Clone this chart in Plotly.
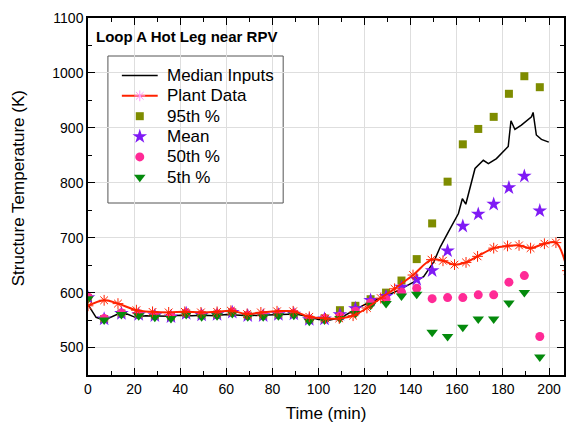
import plotly.graph_objects as go

# ---------------- data ----------------
median_t = [0, 3.5, 7, 12.5, 17, 20.5, 25, 30, 35, 40, 45, 50, 55, 60, 65, 70, 75, 80, 85, 90,
            95, 100, 105, 110, 115, 120, 125, 130, 135, 140.5, 145.6, 150, 152.8, 156.4, 160.7,
            162.4, 163.9, 167.9, 171.5, 173.7, 177.2, 182.3, 183.5, 185.2, 188, 192.4, 193.1,
            194.5, 196.7, 199.9]
median_T = [578, 555, 550, 560, 561, 555, 558, 558, 557, 559, 558, 559, 558, 560, 559, 558, 559,
            560, 560, 561, 557, 551, 550, 555, 567, 578, 587, 595, 605, 617, 629, 656, 683, 711,
            744, 771, 761, 826, 841, 835, 844, 866, 913, 897, 905, 920, 928, 887, 879, 874]

plant_t = [0, 7, 13, 21, 28, 35, 42, 49, 56, 62, 69, 75, 82, 89, 96, 103, 109, 115, 121, 127,
           133, 141, 149, 154, 159, 164, 169, 176, 182, 187, 192, 198, 203, 208]
plant_T = [576, 586, 580, 568, 565, 564, 565, 564, 565, 567, 561, 564, 566, 566, 556, 553, 553,
           558, 572, 590, 607, 632, 660, 658, 651, 655, 666, 681, 685, 686, 681, 689, 691, 640]

pct_t = [0, 7, 14.5, 22, 29, 36, 42.6, 49.3, 56, 62.6, 69.3, 76, 82.6, 89.3, 96, 102.6, 109.3,
         116, 122.6, 129.3, 136, 142.6, 149.3, 156, 162.6, 169.3, 176, 182.6, 189.3, 196]
p95 = [590, 552, 562, 560, 558, 556, 562, 559, 560, 564, 558, 558, 560, 561, 551, 553, 568, 576,
       588, 600, 622, 661, 726, 802, 870, 898, 920, 962, 994, 974]
mean = [591, 552, 562, 560, 558, 556, 562, 559, 560, 564, 558, 558, 560, 561, 551, 552, 560, 571,
        586, 593, 610, 624, 640, 676, 721, 743, 761, 791, 812, 749]
p50 = [592, 553, 563, 561, 559, 557, 563, 560, 561, 565, 559, 559, 561, 562, 552, 553, 557, 566,
       581, 588, 601, 608, 589, 591, 591, 596, 596, 619, 631, 520]
p5 = [589, 550, 560, 558, 555, 553, 560, 556, 558, 562, 556, 556, 558, 559, 548, 550, 553, 562,
      577, 580, 594, 597, 528, 520, 537, 552, 552, 581, 600, 483]

series_names = ["Median Inputs", "Plant Data", "95th %", "Mean", "50th %", "5th %"]

FONT = "Liberation Sans, Arial, sans-serif"

# ---------------- styles ----------------
W, H = 566, 425
ML, MR, MT, MB = 88, 0, 18, 50
PW, PH = W - ML - MR, H - MT - MB

median_line = dict(color="black", width=1.5)
plant_line = dict(color="#FF2200", width=2, shape="spline")
plant_marker = dict(symbol="asterisk-open", size=9, line=dict(color="#FF6A55", width=1))
m95 = dict(symbol="square", size=8, color="#7E8C00")
mmean = dict(symbol="star", size=11, color="#7F1AF5")
m50 = dict(symbol="circle", size=9, color="#FF2A96")
m5 = dict(symbol="triangle-down", size=10, color="#048A0C")

fig = go.Figure()
fig.add_trace(go.Scatter(x=median_t, y=median_T, mode="lines", name=series_names[0],
                         line=median_line))
fig.add_trace(go.Scatter(x=pct_t, y=p95, mode="markers", name=series_names[2], marker=m95))
fig.add_trace(go.Scatter(x=pct_t, y=mean, mode="markers", name=series_names[3], marker=mmean))
fig.add_trace(go.Scatter(x=pct_t, y=p50, mode="markers", name=series_names[4], marker=m50))
fig.add_trace(go.Scatter(x=pct_t, y=p5, mode="markers", name=series_names[5], marker=m5))
fig.add_trace(go.Scatter(x=plant_t, y=plant_T, mode="lines+markers", name=series_names[1],
                         line=plant_line, marker=plant_marker))

# ---------------- legend (boxed panel, pixel layout) ----------------
def px_x(px):
    return (px - ML) / PW


def px_y(py):
    return (H - MB - py) / PH


LEG_BOX = (108, 56, 284, 203)
SYM_X0, SYM_X1, TEXT_X = 122, 158, 165
ROW0, ROW_STEP = 75.5, 20.35

fig.add_shape(type="rect", xref="paper", yref="paper", layer="between",
              x0=px_x(LEG_BOX[0]), x1=px_x(LEG_BOX[2]), y0=px_y(LEG_BOX[3]), y1=px_y(LEG_BOX[1]),
              line=dict(color="#555555", width=1), fillcolor="white")

leg_styles = [("line", median_line, None),
              ("line", dict(color="#FF2200", width=2),
               dict(symbol="asterisk-open", size=9, line=dict(color="#FF3A20", width=1))),
              ("marker", None, m95), ("marker", None, mmean), ("marker", None, m50),
              ("marker", None, m5)]
xm = px_x((SYM_X0 + SYM_X1) / 2)
for i, (name, (kind, ln, mk)) in enumerate(zip(series_names, leg_styles)):
    yy = px_y(ROW0 + i * ROW_STEP)
    if kind == "line":
        fig.add_trace(go.Scatter(x=[px_x(SYM_X0), px_x(SYM_X1)], y=[yy, yy], mode="lines",
                                 line=ln, xaxis="x2", yaxis="y2", showlegend=False,
                                 hoverinfo="skip"))
    if mk is not None:
        fig.add_trace(go.Scatter(x=[xm], y=[yy], mode="markers", marker=mk, xaxis="x2",
                                 yaxis="y2", showlegend=False, hoverinfo="skip"))
    fig.add_annotation(text=name, xref="paper", yref="paper", x=px_x(TEXT_X), y=yy,
                       xanchor="left", yanchor="middle", showarrow=False,
                       font=dict(family=FONT, size=17, color="black"))

# ---------------- axes ----------------
axis_common = dict(showline=True, linecolor="black", linewidth=1.5, mirror="ticks",
                   ticks="inside", ticklen=7, tickwidth=1, tickcolor="black",
                   showgrid=True, gridcolor="#DEDEDE", gridwidth=1, zeroline=False,
                   tickfont=dict(family=FONT, size=14, color="black"))

xaxis = dict(range=[0, 206.5], dtick=20, tick0=0,
             minor=dict(ticks="inside", ticklen=4, dtick=10, tickcolor="black", showgrid=False),
             title=dict(text="Time (min)", font=dict(family=FONT, size=17, color="black"),
                        standoff=12),
             **axis_common)
yaxis = dict(range=[450, 1100], dtick=100, tick0=0,
             minor=dict(ticks="inside", ticklen=4, dtick=50, tickcolor="black", showgrid=False),
             **axis_common)

fig.add_annotation(text="Structure Temperature (K)", xref="paper", yref="paper",
                   x=px_x(18), y=px_y(188), xanchor="center", yanchor="middle",
                   textangle=-90, showarrow=False,
                   font=dict(family=FONT, size=17, color="black"))

fig.add_annotation(text="<b>Loop A Hot Leg near RPV</b>", xref="paper", yref="paper",
                   x=0.012, y=0.977, xanchor="left", yanchor="top", showarrow=False,
                   font=dict(family=FONT, size=15, color="black"))

fig.update_layout(
    width=W, height=H,
    margin=dict(l=ML, r=MR, t=MT, b=MB),
    paper_bgcolor="white", plot_bgcolor="white",
    showlegend=False,
    xaxis=xaxis, yaxis=yaxis,
    xaxis2=dict(overlaying="x", range=[0, 1], visible=False),
    yaxis2=dict(overlaying="y", range=[0, 1], visible=False),
)

fig.write_html("out.html")
